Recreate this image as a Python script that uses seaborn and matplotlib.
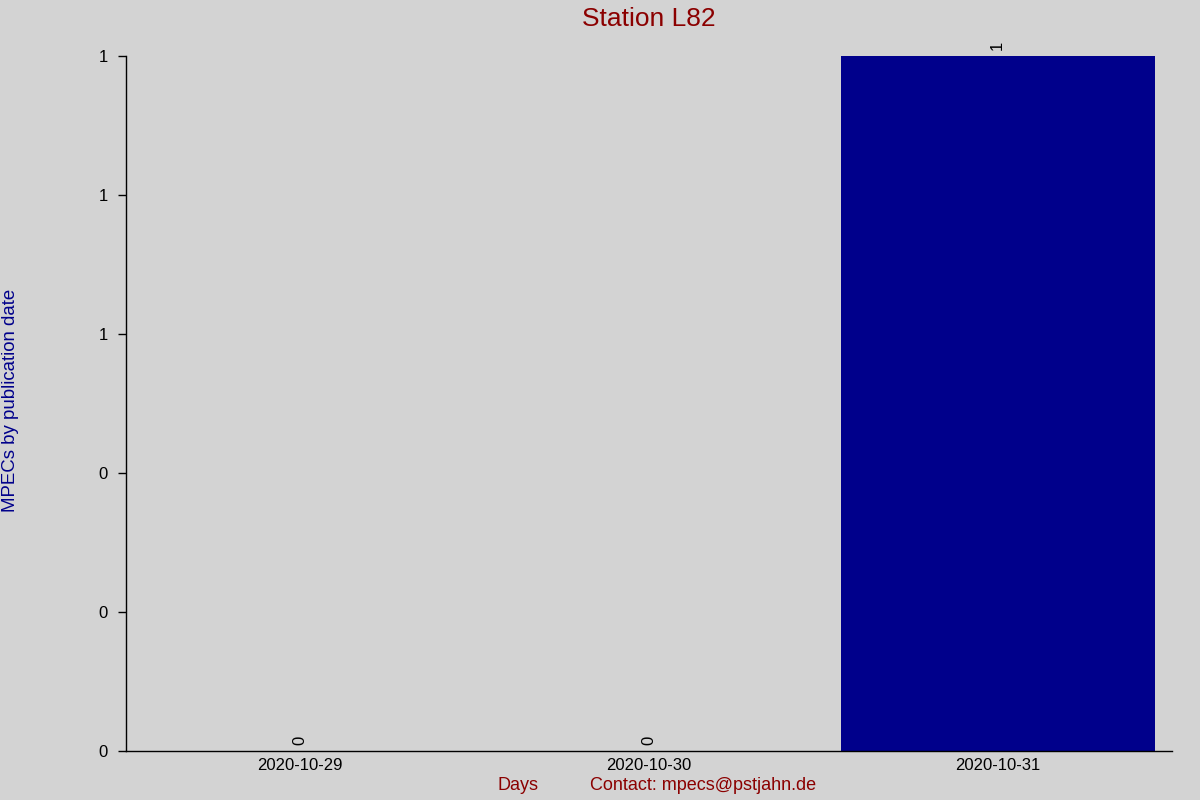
import matplotlib
matplotlib.use("Agg")
import matplotlib.pyplot as plt
import seaborn as sns
import pandas as pd

days = ["2020-10-29", "2020-10-30", "2020-10-31"]
counts = [0, 0, 1]
yticks = [0, 0.2, 0.4, 0.6, 0.8, 1.0]

sns.set_theme(style="ticks")
plt.rcParams["font.family"] = ["Liberation Sans", "DejaVu Sans"]

bg = "#D3D3D3"
fig = plt.figure(figsize=(12, 8), dpi=100, facecolor=bg)
ax = fig.add_axes([0.105, 0.06125, 0.8717, 0.86875])
ax.set_facecolor(bg)

df = pd.DataFrame({"day": days, "count": counts})
sns.barplot(data=df, x="day", y="count", color="#00008B", saturation=1,
            width=0.9, linewidth=0, edgecolor="none", ax=ax)
ax.set_xlim(-0.5, len(days) - 0.5)
ax.set_ylim(0, 1)
ax.set_yticks(yticks)
ax.set_yticklabels([f"{v:.0f}" for v in yticks])
for c in ax.containers:
    ax.bar_label(c, labels=[str(v) for v in counts], rotation=90, padding=4,
                 fontsize=12, color="black")

for s in ["top", "right"]:
    ax.spines[s].set_visible(False)
for s in ["left", "bottom"]:
    ax.spines[s].set_color("black")
    ax.spines[s].set_linewidth(1)
ax.tick_params(axis="y", length=6, width=1, colors="black", labelsize=12, pad=7)
ax.tick_params(axis="x", length=0, colors="black", labelsize=12, pad=5)

ax.set_xlabel("")
ax.set_ylabel("")
fig.text(0.5408, 0.976, "Station L82", ha="center", va="center",
         fontsize=19, color="#8B0000")
fig.text(0.0085, 0.5, "MPECs by publication date", rotation=90,
         ha="center", va="center", fontsize=13.4, color="#00008B")
fig.text(0.4317, 0.0175, "Days", ha="center", va="center",
         fontsize=13, color="#8B0000")
fig.text(0.4917, 0.0175, "Contact: mpecs@pstjahn.de", ha="left", va="center",
         fontsize=13, color="#8B0000")

fig.savefig("out.png", dpi=100, facecolor=bg)
